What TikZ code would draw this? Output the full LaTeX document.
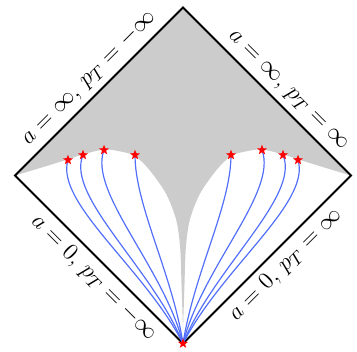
\documentclass[tikz,border=0pt]{standalone}
\usepackage{amsmath}
\usepackage{tikz}
\usetikzlibrary{shapes.geometric}
\definecolor{curveblue}{RGB}{80,110,250}

\begin{document}
\begin{tikzpicture}[
    edge/.style={line width=1pt, line join=miter},
    lbl/.style={sloped, font=\fontsize{13}{15}\selectfont},
    flow/.style={curveblue, line width=0.6pt},
    redstar/.style={star, star points=5, star point ratio=2.4, fill=red, minimum size=0.19cm, inner sep=0pt}
]
    \useasboundingbox (-3.268,-3.134) rectangle (3.107,3.134);

    \coordinate (left) at (-3,0);
    \coordinate (top) at (0,3);
    \coordinate (right) at (3,0);
    \coordinate (bot) at (0,-3);

    \coordinate (l1) at (-2.054,0.277);
    \coordinate (l2) at (-1.786,0.366);
    \coordinate (l3) at (-1.41,0.455);
    \coordinate (l4) at (-0.857,0.366);
    \coordinate (r1) at (0.857,0.366);
    \coordinate (r2) at (1.41,0.455);
    \coordinate (r3) at (1.786,0.366);
    \coordinate (r4) at (2.054,0.277);

    % shaded region above the curves
    \fill[gray!40] (top) -- (right)
        -- plot[smooth] coordinates {(3,0) (2.5,0.15) (2.05,0.29) (1.79,0.375) (1.41,0.465) (1.12,0.43) (0.86,0.35) (0.6,0.1) (0.3,-0.33) (0.12,-0.8) (0.05,-1.3) (0.025,-2.0) (0,-2.75)}
        -- plot[smooth] coordinates {(0,-2.75) (-0.025,-2.0) (-0.05,-1.3) (-0.12,-0.8) (-0.3,-0.33) (-0.6,0.1) (-0.86,0.35) (-1.12,0.43) (-1.41,0.465) (-1.79,0.375) (-2.05,0.29) (-2.5,0.15) (-3,0)}
        -- cycle;

    \draw[edge] (left) -- (top) -- (right) -- (bot) -- cycle;
    \path (left) -- node[lbl, above, pos=0.51] (upperleft) {$a=\infty,\,p_T=-\infty$} (top);
    \path (top) -- node[lbl, above, pos=0.56] (upperright) {$a=\infty,\,p_T=\infty$} (right);
    \path (left) -- node[lbl, below, pos=0.54] (lowerleft) {$a=0,\,p_T=-\infty$} (bot);
    \path (bot) -- node[lbl, below, pos=0.54] (lowerright) {$a=0,\,p_T=\infty$} (right);

    % trajectories
    \draw[flow] (bot) .. controls +(117:1.5) and +(-107:0.8) .. (l1);
    \draw[flow] (bot) .. controls +(112:1.45) and +(-113:0.8) .. (l2);
    \draw[flow] (bot) .. controls +(104:1.4) and +(-111:0.8) .. (l3);
    \draw[flow] (bot) .. controls +(99:1.3) and +(-90:0.9) .. (l4);
    \draw[flow] (bot) .. controls +(81:1.3) and +(-90:0.9) .. (r1);
    \draw[flow] (bot) .. controls +(76:1.4) and +(-69:0.8) .. (r2);
    \draw[flow] (bot) .. controls +(68:1.45) and +(-67:0.8) .. (r3);
    \draw[flow] (bot) .. controls +(63:1.5) and +(-73:0.8) .. (r4);

    \foreach \p in {l1,l2,l3,l4,r1,r2,r3,r4,bot}
        \node[redstar] (star-\p) at (\p) {};
\end{tikzpicture}
\end{document}
